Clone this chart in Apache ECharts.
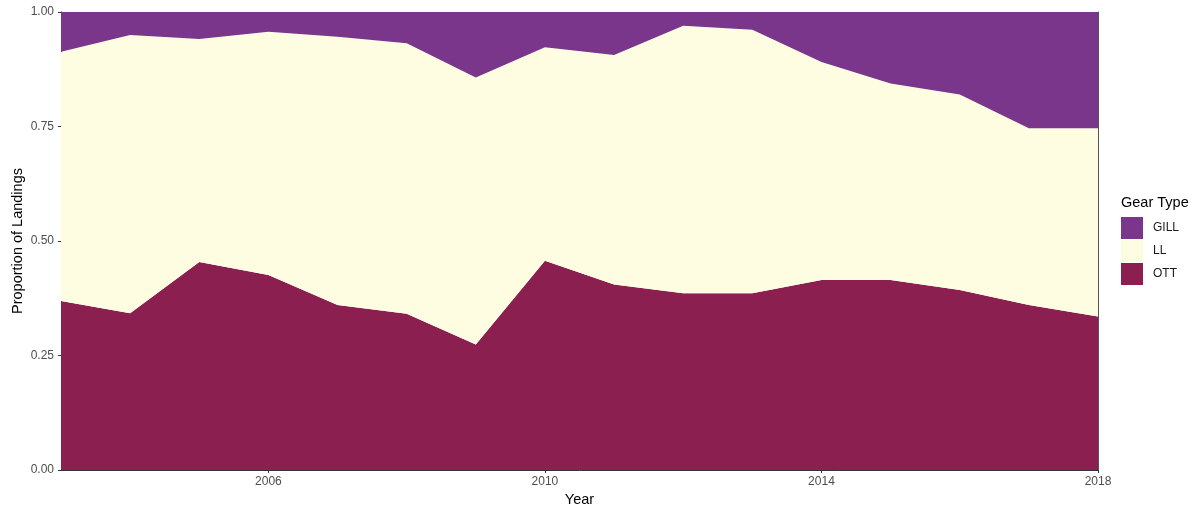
<!DOCTYPE html>
<html>
<head>
<meta charset="utf-8">
<script src="https://cdn.jsdelivr.net/npm/echarts@6/dist/echarts.min.js"></script>
<style>
  html, body { margin: 0; padding: 0; background: #fff; }
  #chart { width: 1202px; height: 516px; }
</style>
</head>
<body>
<div id="chart"></div>
<script>
// Landing years
var years = ['2003','2004','2005','2006','2007','2008','2009','2010',
             '2011','2012','2013','2014','2015','2016','2017','2018'];

// Share of landings by gear type (stacked: OTT at the bottom, then LL, then GILL)
var ott  = [0.369,0.342,0.454,0.426,0.360,0.341,0.274,0.457,0.405,0.386,0.386,0.415,0.415,0.393,0.360,0.335];
var ll   = [0.544,0.608,0.487,0.531,0.586,0.591,0.583,0.466,0.501,0.584,0.575,0.476,0.429,0.427,0.386,0.411];
var gill = [0.087,0.050,0.059,0.043,0.054,0.068,0.143,0.077,0.094,0.030,0.039,0.109,0.156,0.180,0.254,0.254];

var yTicks = [0, 0.25, 0.5, 0.75, 1];
var xTickYears = ['2006','2010','2014','2018'];

var colors = { GILL: '#7a368b', LL: '#fefde1', OTT: '#8b2050' };
var font = '"Liberation Sans", Arial, sans-serif';

function areaSeries(name, values) {
  return {
    name: name,
    type: 'line',
    stack: 'total',
    data: values,
    symbol: 'none',
    silent: true,
    lineStyle: { width: 0 },
    itemStyle: { color: colors[name] },
    areaStyle: { color: colors[name], opacity: 1 },
    emphasis: { disabled: true }
  };
}

var chart = echarts.init(document.getElementById('chart'), null, { renderer: 'canvas' });

chart.setOption({
  animation: false,
  textStyle: { fontFamily: font },
  grid: { left: 61, right: 104, top: 12, bottom: 46, containLabel: false, outerBoundsMode: 'none' },
  legend: {
    orient: 'vertical',
    left: 1121,
    top: 217,
    padding: 0,
    itemWidth: 22,
    itemHeight: 22,
    itemGap: 1,
    icon: 'rect',
    selectedMode: false,
    data: ['GILL', 'LL', 'OTT'],
    textStyle: { fontFamily: font, fontSize: 12, color: '#1a1a1a', padding: [0, 0, 0, 5] }
  },
  graphic: [{
    type: 'text',
    left: 1121,
    top: 195,
    style: { text: 'Gear Type', fontFamily: font, fontSize: 14.5, fill: '#000' }
  }],
  xAxis: {
    type: 'category',
    boundaryGap: false,
    data: years,
    name: 'Year',
    nameLocation: 'middle',
    nameGap: 22,
    nameMoveOverlap: false,
    nameTextStyle: { fontFamily: font, fontSize: 14.5, color: '#000' },
    axisLine: { show: true, lineStyle: { color: '#333', width: 1 } },
    axisTick: {
      show: true, length: 3,
      interval: function (i, v) { return xTickYears.indexOf(v) >= 0; },
      lineStyle: { color: '#333' }
    },
    axisLabel: {
      interval: function (i, v) { return xTickYears.indexOf(v) >= 0; },
      color: '#4d4d4d', fontSize: 12, margin: 6, fontFamily: font
    },
    splitLine: { show: false }
  },
  yAxis: [{
    type: 'value',
    min: 0, max: 1, interval: 0.25,
    name: 'Proportion of Landings',
    nameLocation: 'middle',
    nameGap: 36,
    nameRotate: 90,
    nameMoveOverlap: false,
    nameTextStyle: { fontFamily: font, fontSize: 14.5, color: '#000' },
    axisLine: { show: true, lineStyle: { color: '#000', width: 1 } },
    axisTick: { show: true, length: 3, lineStyle: { color: '#333' } },
    axisLabel: {
      color: '#4d4d4d', fontSize: 12, margin: 7, fontFamily: font,
      formatter: function (v) { return yTicks.indexOf(v) >= 0 ? v.toFixed(2) : ''; }
    },
    splitLine: { show: false }
  }, {
    type: 'value',
    position: 'right',
    min: 0, max: 1,
    axisLine: { show: true, lineStyle: { color: '#555', width: 1 } },
    axisTick: { show: false },
    axisLabel: { show: false },
    splitLine: { show: false }
  }],
  series: [
    areaSeries('OTT', ott),
    areaSeries('LL', ll),
    areaSeries('GILL', gill)
  ]
});
</script>
</body>
</html>
